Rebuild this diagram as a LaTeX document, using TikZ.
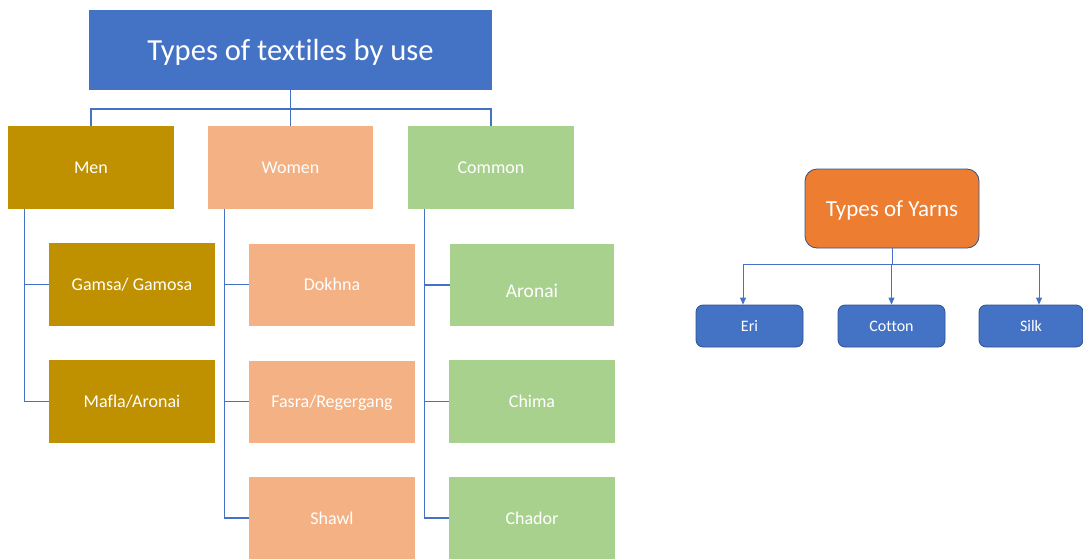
\documentclass[tikz,border=0pt]{standalone}
\usepackage{fontspec}
\setmainfont[Ligatures=NoCommon]{Carlito}
\usetikzlibrary{arrows.meta}
\definecolor{topblue}{HTML}{4472C4}
\definecolor{edgeblue}{HTML}{2F528F}
\definecolor{mengold}{HTML}{BF9000}
\definecolor{womenpeach}{HTML}{F4B183}
\definecolor{commongreen}{HTML}{A9D18E}
\definecolor{yarnorange}{HTML}{ED7D31}

\begin{document}
\begin{tikzpicture}[x=1pt,y=-1pt,
	box/.style={rectangle,inner sep=0pt,text=white,text depth=0pt,minimum width=166pt,minimum height=83pt,font=\fontsize{18}{22}\selectfont},
	link/.style={draw=topblue,line width=1.2pt},
	yarnbox/.style={rectangle,rounded corners=7pt,draw=edgeblue,line width=0.8pt,fill=topblue,text=white,text depth=0pt,inner sep=0pt,minimum width=107pt,minimum height=42pt,font=\fontsize{16}{19}\selectfont},
	arrow/.style={draw=topblue,line width=0.8pt,-{Triangle[length=7pt,width=6pt]}}]
\useasboundingbox (0,0) rectangle (1083,558);

\node[box,fill=topblue,minimum width=403pt,minimum height=80pt,font=\fontsize{30.6}{36}\selectfont] (top) at (290.5,50) {Types of textiles by use};
\node[box,fill=mengold] (men) at (91,167.5) {Men};
\node[box,fill=womenpeach,minimum width=165pt] (women) at (290.5,167.5) {Women};
\node[box,fill=commongreen] (common) at (491,167.5) {Common};

\coordinate (bus) at (290.5,109);
\draw[link] (top) -- (bus);
\foreach \c in {men,women,common}
	\draw[link] (bus) -| (\c.north);

\foreach \n/\y/\t in {1/284.5/{Gamsa/ Gamosa},2/401.5/{Mafla/Aronai}}
{
	\node[box,fill=mengold] (m\n) at (132,\y) {\t};
	\draw[link] ([xshift=17pt]men.south west) |- (m\n.west);
}
\foreach \n/\y/\t in {1/284.5/Dokhna,2/401.5/{Fasra/Regergang},3/518/Shawl}
{
	\node[box,fill=womenpeach,minimum height=82pt] (w\n) at (332,\y) {\t};
	\draw[link] ([xshift=17pt]women.south west) |- (w\n.west);
}
\node[box,fill=commongreen,minimum width=164pt,minimum height=82pt,font=\fontsize{19.5}{23}\selectfont] (c1) at (532,285) {\raisebox{0pt}[25pt][0pt]{Aronai}};
\node[box,fill=commongreen] (c2) at (532,401.5) {Chima};
\node[box,fill=commongreen,minimum height=82pt] (c3) at (532,518) {Chador};
\foreach \n in {1,2,3}
	\draw[link] ([xshift=17pt]common.south west) |- (c\n.west);

\node[yarnbox,fill=yarnorange,rounded corners=12pt,minimum width=174pt,minimum height=79pt,font=\fontsize{23}{27}\selectfont] (yarn) at (892,208.5) {Types of Yarns};
\node[yarnbox] (y1) at (749.5,326) {Eri};
\node[yarnbox] (y2) at (891.5,326) {Cotton};
\node[yarnbox,minimum width=104pt] (y3) at (1031,326) {Silk};

\coordinate (ybus) at (892,264);
\draw[draw=topblue,line width=0.8pt] (yarn) -- (ybus);
\foreach \n/\s in {1/-6.5,2/0,3/8}
	\draw[arrow] (ybus) -| ([xshift=\s pt]y\n.north);
\end{tikzpicture}
\end{document}
